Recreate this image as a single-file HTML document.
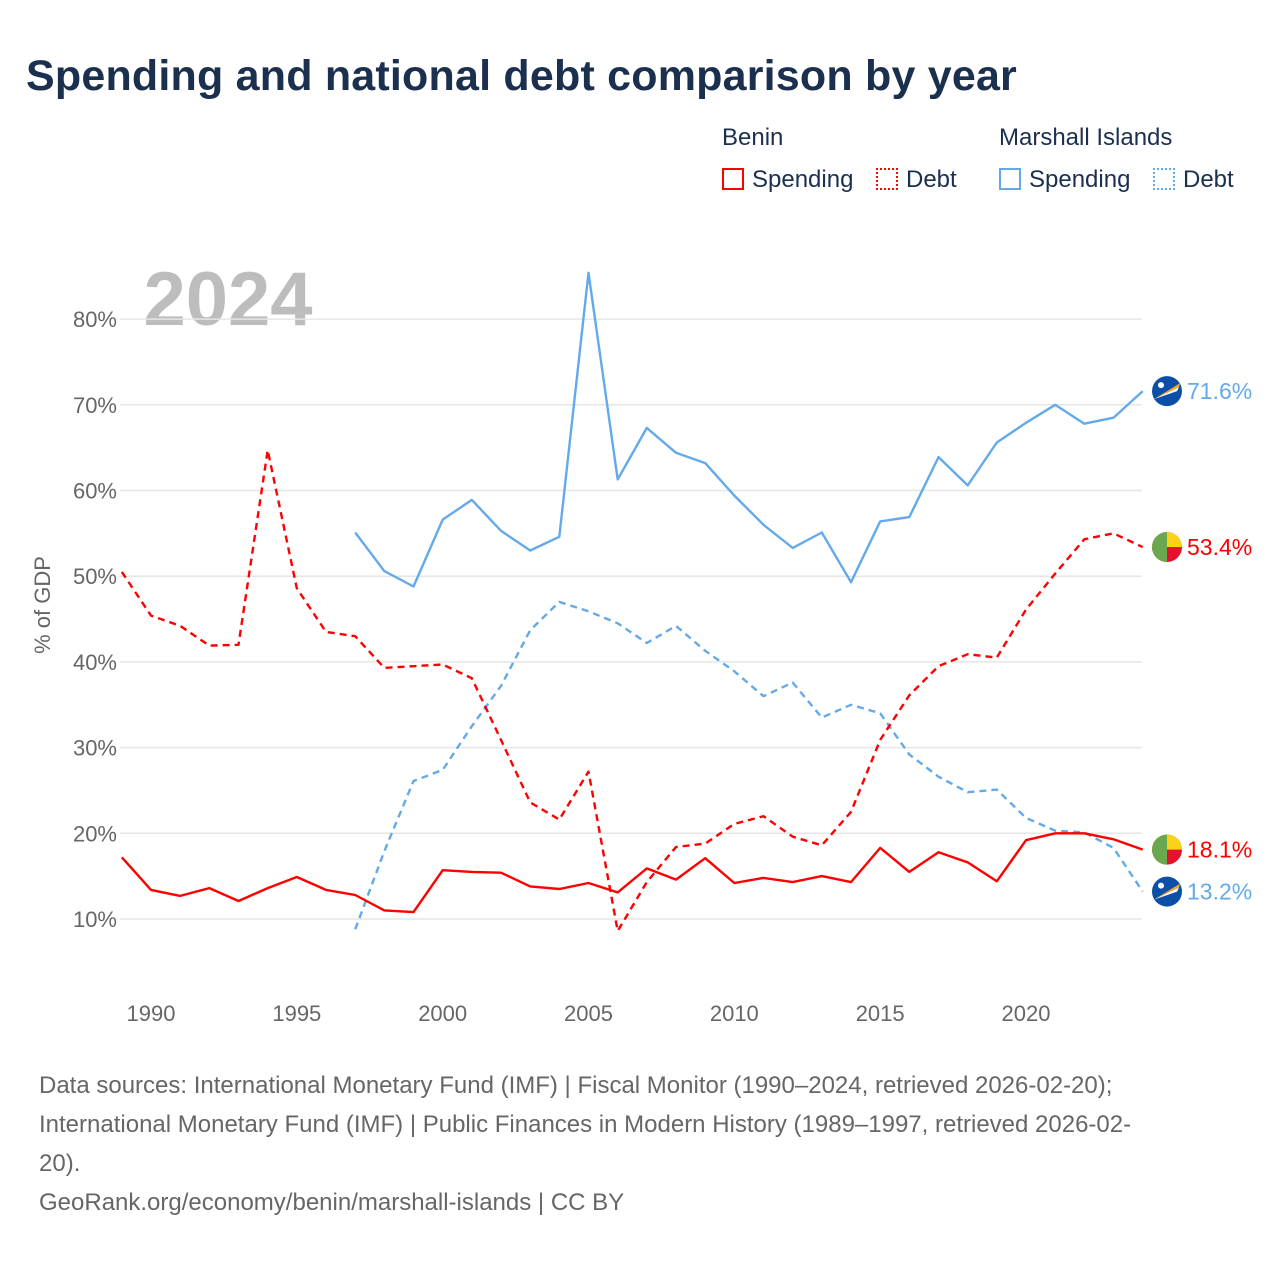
<!DOCTYPE html>
<html><head><meta charset="utf-8"><style>
body{margin:0;background:#fff;font-family:"Liberation Sans",sans-serif;}
#wrap{position:relative;width:1280px;height:1280px;overflow:hidden;}
.t{position:absolute;white-space:nowrap;}
</style></head><body>
<div id="wrap">
<div class="t" style="left:26px;top:52px;font-size:43px;font-weight:bold;color:#1b2f4f;letter-spacing:0.2px">Spending and national debt comparison by year</div>
<div class="t" style="left:722px;top:124px;font-size:24px;color:#1b2f4f">Benin</div>
<div class="t" style="left:999px;top:124px;font-size:24px;color:#1b2f4f">Marshall Islands</div>
<div class="t" style="left:722px;top:166px;font-size:24px;color:#1b2f4f"><span style="display:inline-block;width:22px;height:22px;border:2px solid #f00;box-sizing:border-box;vertical-align:-3px;margin-right:8px"></span>Spending</div>
<div class="t" style="left:876px;top:166px;font-size:24px;color:#1b2f4f"><span style="display:inline-block;width:22px;height:22px;border:2px dotted #f00;box-sizing:border-box;vertical-align:-3px;margin-right:8px"></span>Debt</div>
<div class="t" style="left:999px;top:166px;font-size:24px;color:#1b2f4f"><span style="display:inline-block;width:22px;height:22px;border:2px solid #64aaea;box-sizing:border-box;vertical-align:-3px;margin-right:8px"></span>Spending</div>
<div class="t" style="left:1153px;top:166px;font-size:24px;color:#1b2f4f"><span style="display:inline-block;width:22px;height:22px;border:2px dotted #64aaea;box-sizing:border-box;vertical-align:-3px;margin-right:8px"></span>Debt</div>
<svg id="chart" width="1280" height="1280" style="position:absolute;left:0;top:0"></svg>
<div class="t" style="left:39px;top:1066px;font-size:24px;line-height:39px;color:#666">Data sources: International Monetary Fund (IMF) | Fiscal Monitor (1990–2024, retrieved 2026-02-20);<br>International Monetary Fund (IMF) | Public Finances in Modern History (1989–1997, retrieved 2026-02-<br>20).<br>GeoRank.org/economy/benin/marshall-islands | CC BY</div>
</div>
<script>
const benYears=[1989,1990,1991,1992,1993,1994,1995,1996,1997,1998,1999,2000,2001,2002,2003,2004,2005,2006,2007,2008,2009,2010,2011,2012,2013,2014,2015,2016,2017,2018,2019,2020,2021,2022,2023,2024];
const benSpending=[17.2,13.4,12.7,13.6,12.1,13.6,14.9,13.4,12.8,11.0,10.8,15.7,15.5,15.4,13.8,13.5,14.2,13.1,15.9,14.6,17.1,14.2,14.8,14.3,15.0,14.3,18.3,15.5,17.8,16.6,14.4,19.2,20.0,20.0,19.3,18.1];
const benDebt=[50.5,45.4,44.2,41.9,42.0,64.7,48.6,43.5,43.0,39.3,39.5,39.7,38.1,30.9,23.6,21.6,27.2,8.6,14.3,18.4,18.8,21.1,22.0,19.6,18.6,22.5,30.9,36.1,39.5,40.9,40.5,46.1,50.3,54.3,55.0,53.4];
const mhlYears=[1997,1998,1999,2000,2001,2002,2003,2004,2005,2006,2007,2008,2009,2010,2011,2012,2013,2014,2015,2016,2017,2018,2019,2020,2021,2022,2023,2024];
const mhlSpending=[55.1,50.6,48.8,56.6,58.9,55.3,53.0,54.6,85.4,61.3,67.3,64.4,63.2,59.4,56.0,53.3,55.1,49.3,56.4,56.9,63.9,60.6,65.6,67.9,70.0,67.8,68.5,71.6];
const mhlDebt=[8.8,17.9,26.1,27.4,32.5,37.2,43.7,47.0,45.9,44.5,42.2,44.2,41.3,38.9,36.0,37.6,33.5,35.0,34.0,29.2,26.6,24.8,25.1,21.8,20.3,20.1,18.3,13.2];
const yTicks=[10,20,30,40,50,60,70,80];
const xTicks=[1990,1995,2000,2005,2010,2015,2020];

const NS="http://www.w3.org/2000/svg";
const svg=document.getElementById('chart');
const X=y=>151+(y-1990)*(875/30);
const Y=v=>919-(v-10)*8.57;
function mk(tag,attrs){const e=document.createElementNS(NS,tag);for(const k in attrs)e.setAttribute(k,attrs[k]);svg.appendChild(e);return e;}
const yr=mk('text',{x:228,y:325,'font-size':76,'font-weight':'bold',fill:'#bdbdbd','text-anchor':'middle','font-family':'Liberation Sans, sans-serif'});
yr.textContent='2024';


yTicks.forEach(v=>{
  const l=mk('line',{x1:120,x2:1142,y1:Y(v),y2:Y(v),stroke:'#e6e6e6','stroke-width':1.5});
  
  
  const t=mk('text',{x:117,y:Y(v)+8,'font-size':22,fill:'#666','text-anchor':'end','font-family':'Liberation Sans, sans-serif'});
  t.textContent=v+'%';
  
  
});
xTicks.forEach(v=>{
  const t=mk('text',{x:X(v),y:1021,'font-size':22,fill:'#666','text-anchor':'middle','font-family':'Liberation Sans, sans-serif'});
  t.textContent=v;
  
  
});
const yt=mk('text',{x:0,y:0,'font-size':22,fill:'#666','text-anchor':'middle',transform:'translate(50,605) rotate(-90)','font-family':'Liberation Sans, sans-serif'});
yt.textContent='% of GDP';


function line(years,vals,color,dash,name){
  const d=years.map((y,i)=>(i?'L':'M')+X(y).toFixed(1)+','+Y(vals[i]).toFixed(1)).join(' ');
  const p=mk('path',{d:d,fill:'none',stroke:color,'stroke-width':2.4,'stroke-dasharray':dash,'stroke-linejoin':'round'});
  
  
}
line(mhlYears,mhlDebt,'#64aaea','7,5','marshall-debt-line');
line(benYears,benDebt,'#f00','7,5','benin-debt-line');
line(mhlYears,mhlSpending,'#64aaea','none','marshall-spending-line');
line(benYears,benSpending,'#f00','none','benin-spending-line');
function endLabel(v,color,flag,name){
  const cy=Y(v),cx=1167;
  const g=document.createElementNS(NS,'g');svg.appendChild(g);
  
  
  const c=(tag,a)=>{const e=document.createElementNS(NS,tag);for(const k in a)e.setAttribute(k,a[k]);g.appendChild(e);return e;};
  if(flag==='benin'){
    c('circle',{cx:cx,cy:cy,r:15,fill:'#e8112d'});
    c('path',{d:`M${cx-15},${cy} A15,15 0 0 1 ${cx+15},${cy} L${cx},${cy} Z`,fill:'#fcd116'});
    c('path',{d:`M${cx},${cy-15} A15,15 0 0 0 ${cx},${cy+15} Z`,fill:'#6aa84f'});
  }else{
    c('circle',{cx:cx,cy:cy,r:15,fill:'#0b4fa8'});
    c('path',{d:`M${cx-13},${cy+8} L${cx+13},${cy-8} L${cx+12},${cy-4} Z`,fill:'#f5a623'});
    c('path',{d:`M${cx-13},${cy+8} L${cx+12},${cy-4} L${cx+10},${cy} Z`,fill:'#fff'});
    c('circle',{cx:cx-6,cy:cy-6,r:3,fill:'#fff'});
  }
  const t=c('text',{x:cx+20,y:cy+8,'font-size':23,fill:color,'font-family':'Liberation Sans, sans-serif'});
  t.textContent=v.toFixed(1)+'%';
}
endLabel(mhlSpending[mhlSpending.length-1],'#64aaea','mhl','end-label-marshall-spending');
endLabel(benDebt[benDebt.length-1],'#f00','benin','end-label-benin-debt');
endLabel(benSpending[benSpending.length-1],'#f00','benin','end-label-benin-spending');
endLabel(mhlDebt[mhlDebt.length-1],'#64aaea','mhl','end-label-marshall-debt');
</script>
</body></html>
